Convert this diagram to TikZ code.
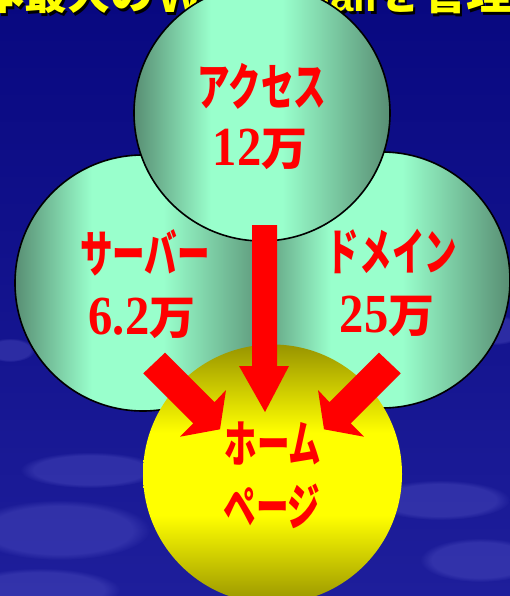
\documentclass[tikz,border=0pt]{standalone}
\usepackage{graphicx}
\usepackage{fontspec}
\newfontfamily\jp{Noto Sans CJK JP}
\newfontfamily\numf{Liberation Serif}
\newfontfamily\latf{Liberation Sans}
\usetikzlibrary{fadings}
\definecolor{gdark}{RGB}{88,142,115}
\definecolor{glight}{RGB}{153,255,204}
\definecolor{yolive}{RGB}{152,148,0}
\definecolor{ybright}{RGB}{255,255,0}
\definecolor{bgtop}{RGB}{8,8,128}
\definecolor{bgbot}{RGB}{30,30,155}
\definecolor{cloud}{RGB}{100,100,210}
\pgfdeclarehorizontalshading{greenball}{100bp}{color(0bp)=(gdark); color(25bp)=(gdark); color(40bp)=(glight); color(54bp)=(glight); color(75bp)=(gdark); color(100bp)=(gdark)}
\pgfdeclareverticalshading{yellowball}{100bp}{color(0bp)=(yolive); color(25bp)=(yolive); color(42bp)=(ybright); color(58bp)=(ybright); color(75bp)=(yolive); color(100bp)=(yolive)}
\newcommand\kana[1]{\scalebox{0.74}[1.14]{\jp\bfseries\fontsize{44}{44}\selectfont #1}}
\newcommand\amount[1]{\scalebox{0.9}[1.02]{\numf\bfseries\fontsize{54}{54}\selectfont #1}{\jp\bfseries\fontsize{46}{46}\selectfont 万}}
\tikzset{
  ball/.style={circle, draw=black, line width=1.6pt, inner sep=0pt, minimum size=256pt, shading=greenball},
  home/.style={circle, inner sep=0pt, minimum size=259pt, shading=yellowball},
  lbl/.style={text=red, inner sep=0pt},
  ttl/.style={text=ybright, inner sep=0pt, anchor=base west},
  ttlsh/.style={text=black, inner sep=0pt, anchor=base west},
  blockarrow/.style={fill=red, draw=none},
  cloudblob/.style={fill=cloud, opacity=0.3, path fading=circle with fuzzy edge 20 percent}
}
\begin{document}
\begin{tikzpicture}[x=1pt,y=-1pt]
\useasboundingbox (0,0) rectangle (510,596);
\clip (0,0) rectangle (510,596);
% background
\shade[top color=bgtop, bottom color=bgbot] (0,0) rectangle (510,596);
\fill[cloudblob] (60,530) ellipse [x radius=90pt, y radius=30pt];
\fill[cloudblob] (90,470) ellipse [x radius=70pt, y radius=18pt];
\fill[cloudblob] (40,590) ellipse [x radius=80pt, y radius=22pt];
\fill[cloudblob] (440,500) ellipse [x radius=70pt, y radius=20pt];
\fill[cloudblob] (480,560) ellipse [x radius=60pt, y radius=22pt];
\fill[cloudblob] (495,330) ellipse [x radius=30pt, y radius=15pt];
\fill[cloudblob] (10,350) ellipse [x radius=25pt, y radius=12pt];
% title (cut off at the top)
\foreach \dx/\st in {2.5/ttlsh, 0/ttl}{
  \node[\st] (t1\st) at (-19+\dx,10+\dx) {\jp\bfseries\fontsize{43}{43}\selectfont 本最大の};
  \node[\st] (t2\st) at (157+\dx,13+\dx) {\latf\bfseries\fontsize{48}{48}\selectfont Web};
  \node[\st] (t3\st) at (293+\dx,12+\dx) {\latf\bfseries\fontsize{42}{42}\selectfont mall};
  \node[\st] (t4\st) at (376+\dx,10+\dx) {\jp\bfseries\fontsize{45}{45}\selectfont を管理};
}
% circles
\node[ball] (server) at (143,283) {};
\node[ball] (domain) at (382,280) {};
\node[ball] (access) at (262,113) {};
\node[home] (homepage) at (272.5,474) {};
% labels
\node[lbl] (accessA) at (262,86) {\kana{アクセス}};
\node[lbl, anchor=base] (accessB) at (260,165) {\amount{12}};
\node[lbl] (serverA) at (145,253) {\kana{サーバー}};
\node[lbl, anchor=base] (serverB) at (142,334) {\amount{6.2}};
\node[lbl] (domainA) at (392,251) {\kana{ドメイン}};
\node[lbl, anchor=base] (domainB) at (387,332) {\amount{25}};
\node[lbl] (homeA) at (273,444) {\kana{ホーム}};
\node[lbl] (homeB) at (272,506) {\kana{ページ}};
% arrows
\fill[blockarrow] (252,225) -- (252,366) -- (239,366) -- (265,412) -- (289,366) -- (277,366) -- (277,225) -- cycle;
\fill[blockarrow] (143.3,373.3) -- (193.3,423.3) -- (180,436.7) -- (220,429.3) -- (226,390) -- (214.5,402.2) -- (165,352.7) -- cycle;
\fill[blockarrow] (400.7,373.3) -- (350.7,423.3) -- (364,436.7) -- (324,429.3) -- (318,390) -- (329.5,402.2) -- (379,352.7) -- cycle;
\end{tikzpicture}
\end{document}
